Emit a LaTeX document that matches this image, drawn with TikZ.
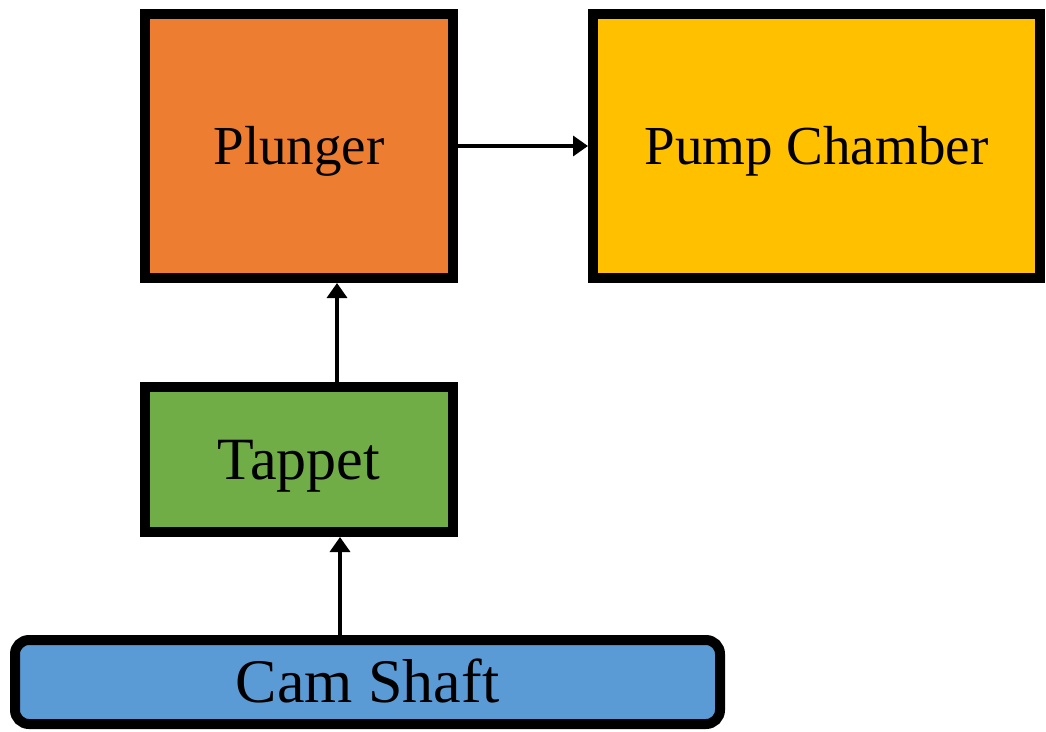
\documentclass[tikz,border=0pt]{standalone}
\usepackage{fontspec}
\setmainfont{Liberation Serif}
\usetikzlibrary{arrows.meta}
\definecolor{cOrange}{HTML}{ED7D31}
\definecolor{cYellow}{HTML}{FFC000}
\definecolor{cGreen}{HTML}{70AD47}
\definecolor{cBlue}{HTML}{5B9BD5}
\tikzset{
  blockbox/.style={draw=black, line width=10pt, rectangle, inner sep=0pt,
    text depth=0pt, align=center},
  arr/.style={line width=3.5pt, -{Triangle[length=15pt,width=20pt]}},
}
\begin{document}
\begin{tikzpicture}[x=1pt,y=-1pt]
\useasboundingbox (0,0) rectangle (1046,731);
\node[blockbox, fill=cOrange, minimum width=308pt, minimum height=264pt,
  text height=36.4pt, font=\fontsize{55}{60}\selectfont] (plunger) at (299,146) {Plunger};
\node[blockbox, fill=cYellow, minimum width=447pt, minimum height=264pt,
  text height=36.4pt, font=\fontsize{55}{60}\selectfont] (pump) at (816.5,146) {Pump Chamber};
\node[blockbox, fill=cGreen, minimum width=308pt, minimum height=145pt,
  text height=39.7pt, font=\fontsize{60}{66}\selectfont] (tappet) at (299,459.5) {Tappet};
\node[blockbox, fill=cBlue, minimum width=705pt, minimum height=84pt,
  text height=41pt, rounded corners=14pt, font=\fontsize{62}{68}\selectfont] (cam) at (367.5,682) {Cam Shaft};
\draw[arr] (plunger.east) -- (pump.west);
\draw[arr] ([xshift=38pt]tappet.north) -- ([xshift=38pt]plunger.south);
\draw[arr] ([xshift=-27.5pt]cam.north) -- ([xshift=41pt]tappet.south);
\end{tikzpicture}
\end{document}
